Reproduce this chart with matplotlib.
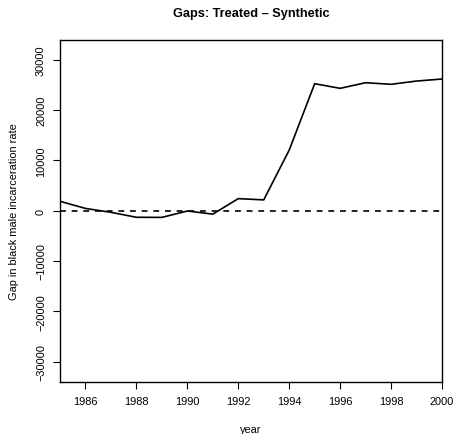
import matplotlib
matplotlib.use("Agg")
import matplotlib.pyplot as plt

plt.rcParams['font.family'] = ['Liberation Sans', 'DejaVu Sans']

# gap between treated and synthetic series
years = [1985, 1986, 1987, 1988, 1989, 1990, 1991, 1992,
         1993, 1994, 1995, 1996, 1997, 1998, 1999, 2000]
gap = [1870, 450, -320, -1310, -1330, -60, -680, 2400,
       2150, 12050, 25250, 24330, 25450, 25130, 25780, 26180]

xticks = [1986, 1988, 1990, 1992, 1994, 1996, 1998, 2000]
yticks = [-30000, -20000, -10000, 0, 10000, 20000, 30000]

fig = plt.figure(figsize=(4.56, 4.35), dpi=100)
ax = fig.add_axes([60/456, 1 - 382.7/435, 382/456, 342/435])

ax.plot(years, gap, color='black', lw=1.2)
ax.axhline(0, color='black', lw=1.2, ls=(0, (3.5, 3.5)))

ax.set_xlim(1985, 2000)
ax.set_ylim(-34000, 34000)
ax.set_xticks(xticks)
ax.set_yticks(yticks)
ax.set_yticklabels([str(v).replace('-', '\u2212') for v in yticks],
                   rotation=90, va='center')
ax.tick_params(direction='out', length=5, width=0.8, labelsize=7.9, pad=5)
for s in ax.spines.values():
    s.set_linewidth(1.0)

ax.set_xlabel('year', fontsize=7.9, labelpad=13)
ax.set_ylabel('Gap in black male incarceration rate', fontsize=7.9, labelpad=12)
fig.text(251/456, 1 - 14/435, 'Gaps: Treated \u2013 Synthetic', ha='center', va='center',
         fontsize=9.2, fontweight='bold')

fig.savefig('out.png', dpi=100)
